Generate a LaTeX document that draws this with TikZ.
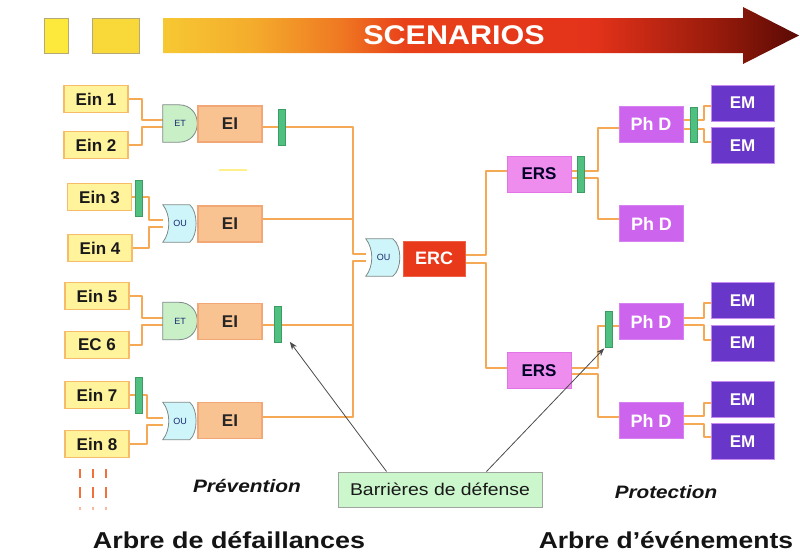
\documentclass[tikz,border=0pt]{standalone}
\usepackage{fontspec}
\usepackage{graphicx}
\setmainfont{Liberation Sans}
\usetikzlibrary{calc,arrows.meta}
\pgfdeclarelayer{background}
\pgfsetlayers{background,main}
\definecolor{wirec}{HTML}{F5A955}
\definecolor{inF}{HTML}{FFF39C}
\definecolor{inD}{HTML}{F7BC6A}
\definecolor{eiF}{HTML}{F8C291}
\definecolor{eiD}{HTML}{F2A777}
\definecolor{barF}{HTML}{50C080}
\definecolor{barD}{HTML}{3C9C64}
\definecolor{andF}{HTML}{C8EFC6}
\definecolor{orF}{HTML}{CDF5FA}
\definecolor{gateD}{HTML}{7E8A88}
\definecolor{gateT}{HTML}{1A2A70}
\definecolor{ercF}{HTML}{E8391B}
\definecolor{ersF}{HTML}{EE8DEE}
\definecolor{ersD}{HTML}{E275E6}
\definecolor{phdF}{HTML}{CC64EE}
\definecolor{phdD}{HTML}{D680F2}
\definecolor{emF}{HTML}{6836C8}
\definecolor{emD}{HTML}{C78CF0}
\definecolor{barrF}{HTML}{CCF6CC}
\definecolor{barrD}{HTML}{9EA69E}
\definecolor{dashc}{HTML}{F2703C}
\definecolor{yelA}{HTML}{FCE93C}
\definecolor{yelB}{HTML}{F9D93A}
\definecolor{yelD}{HTML}{B7A877}
\definecolor{ylight}{HTML}{FFF08A}
\definecolor{sc1}{HTML}{F7C833}
\definecolor{sc2}{HTML}{F4AC2C}
\definecolor{sc3}{HTML}{EF7822}
\definecolor{sc4}{HTML}{E9411A}
\definecolor{sc5}{HTML}{E3321A}
\definecolor{sc6}{HTML}{9C1C0C}
\definecolor{sc7}{HTML}{5A0A04}
\pgfdeclarehorizontalshading{scen}{100bp}{color(0bp)=(sc1); color(25bp)=(sc1); color(32bp)=(sc2); color(39bp)=(sc3); color(44bp)=(sc4); color(59bp)=(sc5); color(68bp)=(sc6); color(75bp)=(sc7); color(100bp)=(sc7)}
\begin{document}
\begin{tikzpicture}[x=1pt,y=-1pt,
  wire/.style={draw=wirec, line width=2pt, line join=round},
  inbox/.style={draw=inD, fill=inF, line width=1.2pt, inner sep=0pt, minimum width=64pt, minimum height=27pt, font={\fontsize{17}{17}\selectfont\bfseries}, text=black!90},
  eibox/.style={draw=eiD, fill=eiF, line width=1.2pt, inner sep=0pt, minimum width=64pt, minimum height=36pt, font={\fontsize{17}{17}\selectfont\bfseries}, text=black!85},
  barrier/.style={draw=barD, fill=barF, line width=0.6pt, minimum width=7pt, minimum height=36pt, inner sep=0pt},
  gatebox/.style={inner sep=0pt, minimum width=34pt, minimum height=37pt, font={\fontsize{9}{9}\selectfont}, text=gateT},
  andshape/.style={fill=andF, draw=gateD, line width=0.8pt},
  orshape/.style={fill=orF, draw=gateD, line width=0.8pt},
  ercbox/.style={draw=ercF!80!white, fill=ercF, line width=1pt, inner sep=0pt, minimum width=62pt, minimum height=35pt, font={\fontsize{18}{18}\selectfont\bfseries}, text=white},
  ersbox/.style={draw=ersD, fill=ersF, line width=1pt, inner sep=0pt, minimum width=64pt, minimum height=36pt, font={\fontsize{17}{17}\selectfont\bfseries}, text=black!85!blue},
  phdbox/.style={draw=phdD, fill=phdF, line width=1pt, inner sep=0pt, minimum width=64pt, minimum height=36pt, font={\fontsize{18}{18}\selectfont\bfseries}, text=white},
  embox/.style={draw=emD, fill=emF, line width=1pt, inner sep=0pt, minimum width=63pt, minimum height=36pt, font={\fontsize{17}{17}\selectfont\bfseries}, text=white},
  ptr/.style={draw=black!70, line width=0.8pt, -{Stealth[length=8pt,width=6pt]}},
  lbl/.style={anchor=base, text=black!92}
]
\begin{pgfonlayer}{background}
\fill[white] (0,0) rectangle (800,554);
\end{pgfonlayer}
\useasboundingbox (0,0) rectangle (800,554);

% top bar
\draw[draw=yelD, line width=0.8pt, fill=yelA] (44,18) rectangle (68,53);
\draw[draw=yelD, line width=0.8pt, fill=yelB] (92,18) rectangle (139,53);
\shade[shading=scen] (163,18) -- (743,18) -- (743,7) -- (799,35.5) -- (743,64) -- (743,53) -- (163,53) -- cycle;
\node[font={\fontsize{27}{27}\selectfont\bfseries}, text=white, inner sep=0pt] (scen) at (454,35) {\scalebox{1.13}[1]{SCENARIOS}};

% inputs
\node[inbox] (ein1) at (96,99) {Ein 1};
\node[inbox] (ein2) at (96,145) {Ein 2};
\node[inbox] (ein3) at (99.5,197) {Ein 3};
\node[inbox] (ein4) at (100,248) {Ein 4};
\node[inbox] (ein5) at (97,296) {Ein 5};
\node[inbox] (ec6) at (97,345) {EC 6};
\node[inbox] (ein7) at (97,395) {Ein 7};
\node[inbox] (ein8) at (97,444) {Ein 8};

% gates
\node[gatebox] (g1) at (180,123.5) {ET};
\node[gatebox] (g2) at (180,223.5) {OU};
\node[gatebox] (g3) at (180,321) {ET};
\node[gatebox] (g4) at (180,421) {OU};
\node[gatebox, minimum width=35pt] (gC) at (383.5,257.5) {OU};

% intermediate events
\node[eibox] (ei1) at (230,124) {EI};
\node[eibox] (ei2) at (230,224) {EI};
\node[eibox] (ei3) at (230,321.5) {EI};
\node[eibox] (ei4) at (230,420.5) {EI};
\node[ercbox] (erc) at (434,258.5) {ERC};
\node[ersbox] (ers1) at (539,174) {ERS};
\node[ersbox] (ers2) at (539,370.5) {ERS};
\node[phdbox] (phd1) at (651,124) {Ph D};
\node[phdbox] (phd2) at (651.5,223.5) {Ph D};
\node[phdbox] (phd3) at (651,321.5) {Ph D};
\node[phdbox] (phd4) at (651,420.5) {Ph D};
\node[embox] (em1) at (742.5,103) {EM};
\node[embox] (em2) at (742.5,145.5) {EM};
\node[embox] (em3) at (742.5,300.5) {EM};
\node[embox] (em4) at (742.5,343) {EM};
\node[embox] (em5) at (742.5,399.5) {EM};
\node[embox] (em6) at (742.5,441.5) {EM};

% barriers
\node[barrier] (b1) at (281.5,127) {};
\node[barrier] (b3) at (278,324.5) {};
\node[barrier] (bi3) at (139,198.5) {};
\node[barrier] (bi7) at (139,395.5) {};
\node[barrier] (be1) at (581,174) {};
\node[barrier, minimum height=35pt] (bp1) at (693.5,124.5) {};
\node[barrier] (be2) at (609,329) {};

\coordinate (jl) at (353,257.5);
\coordinate (jr) at (486,257.5);
\coordinate (jr2) at (598,257.5);
\coordinate (jx3) at (704,257.5);

\begin{pgfonlayer}{background}
% wires left
\draw[wire] (ein1.east) -- ++(13,0) |- ($(g1.west)+(0,-3.5)$);
\draw[wire] (ein2.east) -- ++(13,0) |- ($(g1.west)+(0,3.5)$);
\draw[wire] (ein3.east) -- ++(17,0) |- ($(g2.west)+(0,-3.5)$);
\draw[wire] (ein4.east) -- ++(16,0) |- ($(g2.west)+(0,3.5)$);
\draw[wire] (ein5.east) -- ++(12,0) |- ($(g3.west)+(0,-3.5)$);
\draw[wire] (ec6.east) -- ++(12,0) |- ($(g3.west)+(0,3.5)$);
\draw[wire] (ein7.east) -- ++(17,0) |- ($(g4.west)+(0,-3.5)$);
\draw[wire] (ein8.east) -- ++(17,0) |- ($(g4.west)+(0,3.5)$);
% to central gate
\draw[wire] (ei1.east |- b1.center) -| ($(jl)+(0,-3.5)$) -- ($(gC.west)+(0,-3.5)$);
\draw[wire] ($(ei2.east)+(0,-5)$) -- ($(ei2.east -| jl)+(0,-5)$);
\draw[wire] (ei3.east |- b3.center) -- (b3.center -| jl);
\draw[wire] ($(ei4.east)+(0,-4)$) -| ($(jl)+(0,3.5)$) -- ($(gC.west)+(0,3.5)$);
% event tree
\draw[wire] ($(erc.east)+(0,-4)$) -| ($(ers1.west -| jr)+(0,-3)$) -- ($(ers1.west)+(0,-3)$);
\draw[wire] ($(erc.east)+(0,4)$) -| ($(ers2.west -| jr)+(0,-2.5)$) -- ($(ers2.west)+(0,-2.5)$);
\draw[wire] ($(ers1.east)+(0,-3)$) -| ($(phd1.west -| jr2)+(0,4)$) -- ($(phd1.west)+(0,4)$);
\draw[wire] ($(ers1.east)+(0,4)$) -| ($(phd2.west -| jr2)+(0,-5)$) -- ($(phd2.west)+(0,-5)$);
\draw[wire] ($(ers2.east)+(0,-2.5)$) -| ($(phd3.west -| jr2)+(0,4.5)$) -- ($(phd3.west)+(0,4.5)$);
\draw[wire] ($(ers2.east)+(0,3.5)$) -| ($(phd4.west -| jr2)+(0,-3.5)$) -- ($(phd4.west)+(0,-3.5)$);
\draw[wire] ($(phd1.east)+(0,-4)$) -| ($(em1.west -| jx3)+(0,3)$) -- ($(em1.west)+(0,3)$);
\draw[wire] ($(phd1.east)+(0,5)$) -| ($(em2.west -| jx3)+(0,-3.5)$) -- ($(em2.west)+(0,-3.5)$);
\draw[wire] ($(phd3.east)+(0,-3.5)$) -| ($(em3.west -| jx3)+(0,2.5)$) -- ($(em3.west)+(0,2.5)$);
\draw[wire] ($(phd3.east)+(0,3.5)$) -| ($(em4.west -| jx3)+(0,-3)$) -- ($(em4.west)+(0,-3)$);
\draw[wire] ($(phd4.east)+(0,-4.5)$) -| ($(em5.west -| jx3)+(0,3.5)$) -- ($(em5.west)+(0,3.5)$);
\draw[wire] ($(phd4.east)+(0,3.5)$) -| ($(em6.west -| jx3)+(0,-4.5)$) -- ($(em6.west)+(0,-4.5)$);
% gate shapes
\foreach \g in {g1,g3}{
  \draw[andshape] (\g.north west) -- ($(\g.north west)+(16,0)$) .. controls ($(\g.north west)+(40.7,0)$) and ($(\g.south west)+(40.7,0)$) .. ($(\g.south west)+(16,0)$) -- (\g.south west) -- cycle;
}
\foreach \g in {g2,g4,gC}{
  \draw[orshape] (\g.north west) -- ($(\g.north west)+(27,0)$) .. controls ($(\g.north east)+(1,7)$) and ($(\g.south east)+(1,-7)$) .. ($(\g.south west)+(27,0)$) -- (\g.south west) .. controls ($(\g.south west)+(8,-10)$) and ($(\g.north west)+(8,10)$) .. (\g.north west) -- cycle;
}
\end{pgfonlayer}

% small yellow stroke
\draw[line width=1.8pt, ylight] (219,170) -- (247,170);

% dashes
\foreach \x in {80,93,106}{
  \draw[dashc, line width=2.6pt] (\x,469) -- (\x,478);
  \draw[dashc, line width=2.6pt] (\x,487) -- (\x,498);
  \draw[dashc!50, line width=2pt] (\x,507) -- (\x,510);
}

% barrier label and pointers
\node[draw=barrD, fill=barrF, line width=1pt, minimum width=204pt, minimum height=35pt, inner sep=0pt, font={\fontsize{17}{17}\selectfont}, text=black!90] (barr) at (440,489.5) {\scalebox{1.14}[1]{Barrières de défense}};
\draw[ptr] ($(barr.north west)+(49,0)$) -- ($(b3.south east)+(8,-1)$);
\draw[ptr] ($(barr.north west)+(149,0)$) -- ($(be2.south west)+(-1,1)$);

% labels
\node[lbl, font={\fontsize{18}{18}\selectfont\bfseries\itshape}] (prev) at (247,492) {\scalebox{1.16}[1]{Prévention}};
\node[lbl, font={\fontsize{18}{18}\selectfont\bfseries\itshape}] (prot) at (666,498) {\scalebox{1.15}[1]{Protection}};
\node[lbl, font={\fontsize{23}{23}\selectfont\bfseries}] (adf) at (229,548) {\scalebox{1.17}[1]{Arbre de défaillances}};
\node[lbl, font={\fontsize{23}{23}\selectfont\bfseries}] (aev) at (666,548) {\scalebox{1.15}[1]{Arbre d’événements}};
\end{tikzpicture}
\end{document}
